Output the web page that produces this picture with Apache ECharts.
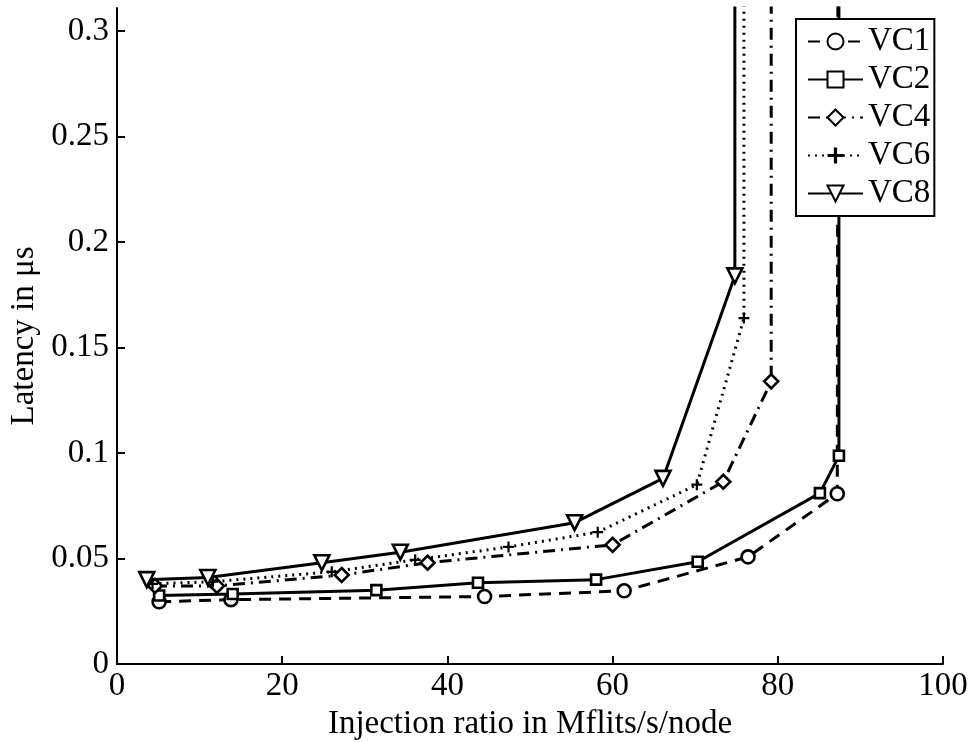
<!DOCTYPE html>
<html>
<head>
<meta charset="utf-8">
<script src="https://cdn.jsdelivr.net/npm/echarts@6/dist/echarts.min.js"></script>
<style>
  html, body { margin: 0; padding: 0; background: #fff; }
  #chart { width: 976px; height: 742px; }
</style>
</head>
<body>
<div id="chart"></div>
<script>
// injection ratio (Mflits/s/node) and latency (us) per virtual-channel count
const vc1X = [5.1, 13.8, 44.5, 61.4, 76.4, 87.2, 87.3];
const vc1Y = [0.0295, 0.0305, 0.032, 0.0347, 0.0508, 0.0807, 0.4];
const vc2X = [5.1, 14.0, 31.4, 43.7, 58.0, 70.3, 85.1, 87.4, 87.4];
const vc2Y = [0.0325, 0.0332, 0.035, 0.0385, 0.040, 0.0485, 0.081, 0.0987, 0.4];
const vc4X = [4.6, 12.1, 27.2, 37.6, 60.0, 73.4, 79.2, 79.2];
const vc4Y = [0.037, 0.037, 0.0422, 0.048, 0.0565, 0.0864, 0.134, 0.4];
const vc6X = [4.3, 11.6, 26.0, 36.1, 47.4, 58.2, 70.2, 75.9, 75.9];
const vc6Y = [0.038, 0.039, 0.0437, 0.0494, 0.0555, 0.0625, 0.085, 0.164, 0.4];
const vc8X = [3.6, 11.0, 24.8, 34.3, 55.4, 66.1, 74.8, 74.8];
const vc8Y = [0.040, 0.041, 0.048, 0.053, 0.067, 0.088, 0.184, 0.4];

const xTicks = [0, 20, 40, 60, 80, 100];
const yTicks = [0, 0.05, 0.1, 0.15, 0.2, 0.25, 0.3];

const font = "Liberation Serif";
const pair = (xs, ys) => xs.map((x, i) => [x, ys[i]]);
const plus = "path://M4,0H6V4H10V6H6V10H4V6H0V4H4Z";

function line(name, xs, ys, dash, symbol, size, filled, rotate) {
  return {
    name: name,
    type: "line",
    data: pair(xs, ys),
    symbol: symbol,
    symbolSize: size,
    symbolRotate: rotate || 0,
    showAllSymbol: true,
    clip: true,
    lineStyle: { color: "#000", width: 3, type: dash },
    itemStyle: {
      color: filled ? "#000" : "#fff",
      borderColor: "#000",
      borderWidth: filled ? 0 : 2.6
    },
    emphasis: { disabled: true }
  };
}

const chart = echarts.init(document.getElementById("chart"));
chart.setOption({
  animation: false,
  backgroundColor: "#fff",
  textStyle: { fontFamily: font, color: "#000" },
  grid: { left: 117, right: 33, top: 8, bottom: 78, outerBoundsMode: "none", containLabel: false },
  legend: {
    orient: "vertical",
    left: 796,
    top: 19,
    padding: [6, 4, 6, 11],
    itemGap: 5,
    itemWidth: 55,
    itemHeight: 20,
    borderColor: "#000",
    borderWidth: 2,
    backgroundColor: "#fff",
    textStyle: { fontFamily: font, fontSize: 33, color: "#000" },
    data: ["VC1", "VC2", "VC4", "VC6", "VC8"]
  },
  xAxis: {
    type: "value",
    min: 0,
    max: 100,
    interval: 20,
    name: "Injection ratio in Mflits/s/node",
    nameLocation: "middle",
    nameGap: 38,
    nameTextStyle: { fontFamily: font, fontSize: 33, color: "#000" },
    axisLine: { lineStyle: { color: "#000", width: 2 } },
    axisTick: { inside: true, length: 8, lineStyle: { color: "#000", width: 2 } },
    axisLabel: { fontFamily: font, fontSize: 33, color: "#000", margin: 6, customValues: xTicks },
    splitLine: { show: false }
  },
  yAxis: {
    type: "value",
    min: 0,
    max: 0.311,
    name: "Latency in μs",
    nameLocation: "middle",
    nameGap: 75,
    nameTextStyle: { fontFamily: font, fontSize: 33, color: "#000" },
    axisLine: { lineStyle: { color: "#000", width: 2 } },
    axisTick: { inside: true, length: 8, lineStyle: { color: "#000", width: 2 }, customValues: yTicks },
    axisLabel: { fontFamily: font, fontSize: 33, color: "#000", margin: 8, customValues: yTicks },
    splitLine: { show: false }
  },
  series: [
    line("VC1", vc1X, vc1Y, [12, 8], "circle", 13, false),
    line("VC2", vc2X, vc2Y, "solid", "rect", 10, false),
    line("VC4", vc4X, vc4Y, [12, 6, 2, 6], "diamond", 14, false),
    line("VC6", vc6X, vc6Y, [2, 5], plus, 11, true),
    line("VC8", vc8X, vc8Y, "solid", "triangle", 15, false, 180)
  ]
});
</script>
</body>
</html>
